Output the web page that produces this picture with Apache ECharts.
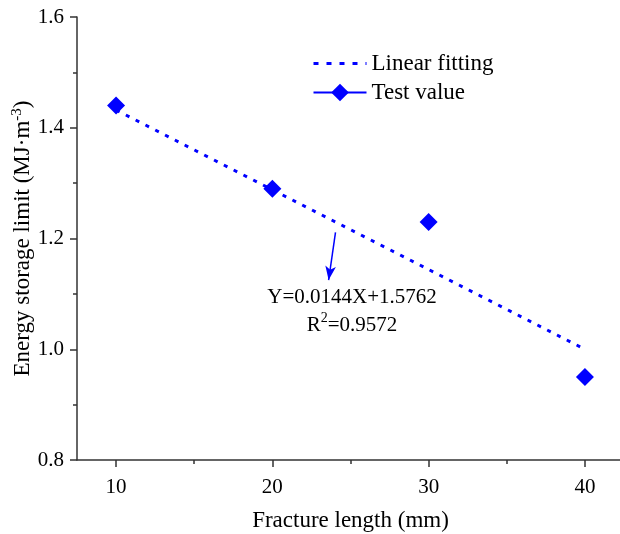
<!DOCTYPE html>
<html>
<head>
<meta charset="utf-8">
<script src="https://cdn.jsdelivr.net/npm/echarts@6/dist/echarts.min.js"></script>
<style>html,body{margin:0;padding:0;background:#fff}#c{width:620px;height:534px}</style>
</head>
<body>
<div id="c"></div>
<script>
// ---- data ----
const fractureLength = [10, 20, 30, 40];
const testValues = [1.44, 1.29, 1.23, 0.95];
const fitX = [10, 40];
const fitY = [1.432, 1.000];
const xTickLabels = [10, 20, 30, 40];
const xMinorTicks = [15, 25, 35];
const arrowFrom = [24.04, 1.211];
const arrowTo = [23.6, 1.125];
const equationAt = [25.1, 1.068];
const equationText = 'Y=0.0144X+1.5762';
const r2Text = '0.9572';

const FONT = 'Liberation Serif';
const BLUE = '#0000ff';
const AXIS = '#333333';

const chart = echarts.init(document.getElementById('c'), null, {renderer: 'canvas'});
const option = {
  animation: false,
  textStyle: {fontFamily: FONT, color: '#000'},
  grid: {left: 77, top: 17, bottom: 74, right: -4, containLabel: false, outerBoundsMode: 'none'},
  legend: {
    orient: 'vertical', left: 307, top: 47, itemWidth: 53, itemHeight: 22, itemGap: 6,
    textStyle: {fontFamily: FONT, fontSize: 23, color: '#000'},
    data: [
      {name: 'Linear fitting', lineStyle: {color: BLUE, width: 3, type: [5, 8], opacity: 1},
       itemStyle: {color: 'rgba(0,0,0,0)', borderWidth: 0, opacity: 0}},
      {name: 'Test value', lineStyle: {opacity: 1, width: 2, color: BLUE, type: 'solid'}}
    ]
  },
  xAxis: [{
    type: 'value', min: 7.5, max: 42.5,
    axisLine: {show: true, onZero: false, lineStyle: {color: AXIS, width: 1.5}},
    axisTick: {show: true, inside: false, length: 7, customValues: xTickLabels, lineStyle: {color: AXIS, width: 1.5}},
    axisLabel: {customValues: xTickLabels, fontFamily: FONT, fontSize: 21, color: '#000', margin: 17},
    splitLine: {show: false},
    name: 'Fracture length (mm)', nameLocation: 'middle', nameGap: 49, nameMoveOverlap: false,
    nameTextStyle: {fontFamily: FONT, fontSize: 23, color: '#000'}
  }, {
    type: 'value', min: 7.5, max: 42.5, position: 'bottom',
    axisLine: {show: false},
    axisTick: {show: true, length: 4, customValues: xMinorTicks, lineStyle: {color: AXIS, width: 1.5}},
    axisLabel: {show: false}, splitLine: {show: false}
  }],
  yAxis: {
    type: 'value', min: 0.8, max: 1.6, interval: 0.2,
    axisLine: {show: true, onZero: false, lineStyle: {color: AXIS, width: 1.5}},
    axisTick: {show: true, length: 7, lineStyle: {color: AXIS, width: 1.5}},
    minorTick: {show: true, splitNumber: 2, length: 4, lineStyle: {color: AXIS, width: 1.5}},
    axisLabel: {fontFamily: FONT, fontSize: 21, color: '#000', margin: 13, formatter: v => v.toFixed(1)},
    splitLine: {show: false},
    name: '{a|Energy storage limit (MJ·m}{s|-3}{a|)}', nameLocation: 'middle', nameGap: 41, nameMoveOverlap: false,
    nameTextStyle: {
      rich: {
        a: {fontFamily: FONT, fontSize: 23, color: '#000'},
        s: {fontFamily: FONT, fontSize: 15, color: '#000', verticalAlign: 'top', padding: [0, 0, 11, 0]}
      }
    }
  },
  series: [{
    name: 'Linear fitting', type: 'line',
    data: fitX.map((x, i) => [x, fitY[i]]),
    showSymbol: false, symbol: 'none',
    lineStyle: {color: BLUE, width: 3, type: [4, 7]},
    itemStyle: {color: BLUE},
    markLine: {
      silent: true, symbol: ['none', 'arrow'], symbolSize: [8, 14],
      lineStyle: {color: BLUE, width: 1.5, type: 'solid'}, label: {show: false},
      data: [[{coord: arrowFrom}, {coord: arrowTo}]]
    },
    markPoint: {
      silent: true, symbol: 'circle', symbolSize: 0,
      data: [{coord: equationAt}],
      label: {
        show: true, position: 'inside', align: 'center', verticalAlign: 'middle',
        formatter: equationText + '\n{t|R}{s|2}{t|=' + r2Text + '}',
        fontFamily: FONT, fontSize: 21, color: '#000', lineHeight: 28,
        rich: {
          t: {fontFamily: FONT, fontSize: 21, color: '#000', lineHeight: 28},
          s: {fontFamily: FONT, fontSize: 14, color: '#000', verticalAlign: 'top', padding: [0, 0, 8, 0], lineHeight: 28}
        }
      }
    }
  }, {
    name: 'Test value', type: 'line',
    data: fractureLength.map((x, i) => [x, testValues[i]]),
    symbol: 'diamond', symbolSize: 18, showSymbol: true,
    lineStyle: {opacity: 0, width: 0},
    itemStyle: {color: BLUE}
  }]
};
chart.setOption(option);
</script>
</body>
</html>
